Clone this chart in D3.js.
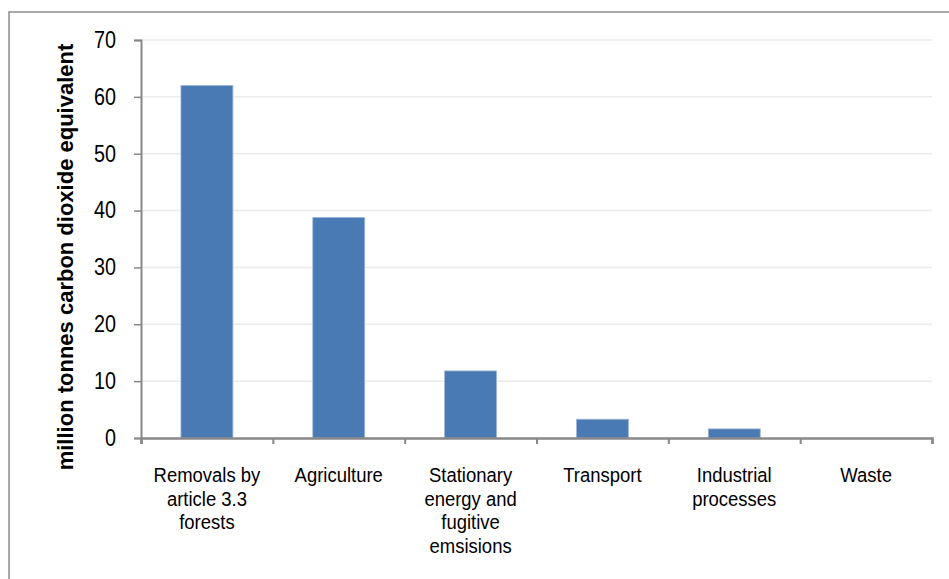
<!DOCTYPE html>
<html>
<head>
<meta charset="utf-8">
<script src="https://cdn.jsdelivr.net/npm/d3@7"></script>
<style>
  html, body { margin: 0; padding: 0; background: #fff; }
  svg { display: block; }
  text { font-family: "Liberation Sans", Arial, sans-serif; fill: #000; }
</style>
</head>
<body>
<svg id="chart" width="949" height="579"></svg>
<script>
// Emissions by sector, million tonnes CO2-e
const categories = [
  ["Removals by", "article 3.3", "forests"],
  ["Agriculture"],
  ["Stationary", "energy and", "fugitive", "emsisions"],
  ["Transport"],
  ["Industrial", "processes"],
  ["Waste"]
];
const values = [62.0, 38.8, 11.8, 3.3, 1.6, 0];
const yTicks = [0, 10, 20, 30, 40, 50, 60, 70];
const yTitle = "million tonnes carbon dioxide equivalent";

// horizontal squeeze that gives the condensed sans look
const NARROW = 0.88;

const svg = d3.select("#chart");
const plot = { left: 141, right: 932, top: 40, bottom: 438 };

// outer frame
svg.append("rect")
  .attr("x", 9).attr("y", 12).attr("width", 1000).attr("height", 700)
  .attr("fill", "none").attr("stroke", "#8c8c8c").attr("stroke-width", 1.5);

const idx = d3.range(categories.length);
const x = d3.scaleBand().domain(idx).range([plot.left, plot.right]).paddingInner(0.606).paddingOuter(0.303);
const y = d3.scaleLinear().domain([0, 70]).range([plot.bottom, plot.top]);

// gridlines
svg.append("g").selectAll("line")
  .data(yTicks.filter(d => d > 0))
  .join("line")
  .attr("x1", plot.left).attr("x2", plot.right)
  .attr("y1", d => y(d)).attr("y2", d => y(d))
  .attr("stroke", "#ebebeb").attr("stroke-width", 1.5);

// bars
svg.append("g").selectAll("rect")
  .data(values)
  .join("rect")
  .attr("x", (d, i) => x(i))
  .attr("width", x.bandwidth())
  .attr("y", d => y(d))
  .attr("height", d => y(0) - y(d))
  .attr("fill", "#4a7ab4")
  .attr("stroke", "#9db7d8").attr("stroke-width", d => d > 0 ? 0.8 : 0);

// y axis
const yAxis = svg.append("g")
  .attr("transform", `translate(${plot.left},0)`)
  .call(d3.axisLeft(y).tickValues(yTicks).tickSize(7).tickPadding(0).tickFormat(d3.format("d")));
yAxis.select(".domain").attr("stroke", "#888").attr("stroke-width", 2);
yAxis.selectAll(".tick line").attr("stroke", "#888").attr("stroke-width", 1.5);
yAxis.selectAll(".tick text")
  .attr("x", 0)
  .attr("transform", `translate(-25,0) scale(0.86,1)`)
  .style("font-size", "23px").attr("fill", "#000")
  .style("font-family", '"Liberation Sans", Arial, sans-serif');

// x axis with ticks at band boundaries
const xEdges = d3.scaleLinear().domain([0, categories.length]).range([plot.left, plot.right]);
const xAxis = svg.append("g")
  .attr("transform", `translate(0,${plot.bottom})`)
  .call(d3.axisBottom(xEdges).tickValues(d3.range(categories.length + 1)).tickSize(6).tickFormat(""));
xAxis.select(".domain").attr("stroke", "#888").attr("stroke-width", 2.5);
xAxis.selectAll(".tick line").attr("stroke", "#888").attr("stroke-width", 2);

// category labels
const lab = svg.append("g").selectAll("g")
  .data(categories)
  .join("g")
  .attr("transform", (d, i) => `translate(${x(i) + x.bandwidth() / 2},482) scale(${NARROW},1)`)
  .append("text")
  .attr("text-anchor", "middle")
  .style("font-size", "21px");
lab.selectAll("tspan")
  .data(d => d)
  .join("tspan")
  .attr("x", 0)
  .attr("dy", (d, i) => i === 0 ? 0 : 23.7)
  .text(d => d);

// y axis title
svg.append("text")
  .attr("transform", `translate(73,${(plot.top + plot.bottom) / 2 + 18}) rotate(-90)`)
  .attr("text-anchor", "middle")
  .style("font-size", "22px").style("font-weight", "bold")
  .text(yTitle);
</script>
</body>
</html>
